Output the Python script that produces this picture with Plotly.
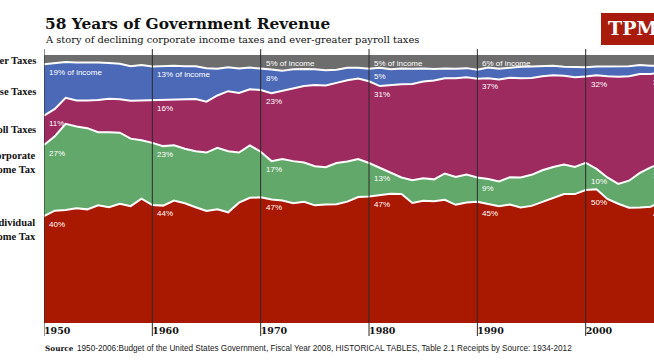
import plotly.graph_objects as go

# ---------------- data (percent of federal receipts) ----------------
years = list(range(1950, 2008))

individual = [39.9, 41.9, 42.2, 42.8, 42.4, 43.9, 43.2, 44.5, 43.6, 46.4,
              44.0, 43.8, 45.7, 44.7, 43.2, 41.8, 42.4, 41.3, 44.9, 46.7,
              46.9, 46.1, 45.7, 44.7, 45.2, 43.9, 44.2, 44.3, 45.3, 47.0,
              47.2, 47.7, 48.2, 48.1, 44.8, 45.6, 45.4, 46.0, 44.1, 45.0,
              45.2, 44.4, 43.6, 44.2, 43.1, 43.7, 45.2, 46.7, 48.1, 48.1,
              49.6, 49.9, 46.3, 44.5, 43.0, 43.1, 43.4, 45.3]
corporate = [26.5, 27.8, 32.1, 30.5, 30.3, 27.3, 28.0, 26.5, 25.2, 21.8,
             23.2, 22.2, 20.6, 20.3, 20.9, 21.8, 23.0, 22.8, 18.7, 19.6,
             17.0, 14.3, 15.5, 15.7, 14.7, 14.6, 13.9, 15.4, 15.0, 14.2,
             12.5, 10.2, 8.0, 6.2, 8.5, 8.4, 8.2, 9.8, 10.4, 10.4,
             9.1, 9.3, 9.2, 10.2, 11.2, 11.6, 11.8, 11.5, 11.0, 10.1,
             10.2, 7.6, 8.0, 7.4, 10.1, 12.9, 14.7, 14.4]
payroll = [11.0, 10.2, 9.7, 9.7, 10.3, 12.0, 12.5, 12.5, 14.1, 14.8,
           15.9, 17.4, 17.1, 18.6, 19.5, 19.0, 19.5, 22.4, 22.2, 20.9,
           23.0, 25.3, 25.4, 27.3, 28.5, 30.3, 30.5, 29.9, 30.3, 30.0,
           30.5, 30.5, 32.6, 34.8, 35.9, 36.1, 36.9, 35.5, 36.8, 36.3,
           36.8, 37.6, 38.1, 37.1, 37.0, 36.1, 35.1, 34.2, 33.2, 33.5,
           32.2, 34.9, 37.8, 40.0, 39.0, 36.9, 34.8, 33.9]
excise = [19.1, 17.1, 13.4, 14.2, 14.3, 14.0, 13.3, 13.2, 12.9, 13.3,
          12.6, 12.4, 12.6, 12.2, 12.2, 12.5, 10.0, 8.9, 9.2, 8.1,
          8.1, 8.9, 7.5, 7.0, 6.4, 5.9, 5.7, 4.9, 4.6, 4.0,
          4.7, 6.8, 5.9, 5.9, 5.7, 4.9, 4.3, 3.7, 3.6, 3.4,
          3.4, 4.0, 4.0, 3.8, 4.3, 4.3, 3.7, 3.6, 3.3, 3.9,
          3.4, 3.3, 3.6, 3.8, 3.7, 3.4, 3.1, 2.5]
other = [3.5, 3.0, 2.6, 2.8, 2.7, 2.8, 3.0, 3.3, 4.2, 3.7,
         4.3, 4.2, 4.0, 4.2, 4.2, 4.9, 5.1, 4.6, 5.0, 4.7,
         5.0, 5.4, 5.9, 5.3, 5.2, 5.3, 5.7, 5.5, 4.8, 4.8,
         5.1, 4.8, 5.3, 5.0, 5.1, 5.0, 5.2, 5.0, 5.1, 4.9,
         5.5, 4.7, 5.1, 4.7, 4.4, 4.3, 4.2, 4.0, 4.4, 4.4,
         4.6, 4.3, 4.3, 4.3, 4.2, 3.7, 4.0, 3.9]

series_names = ["Individual Income Tax", "Corporate Income Tax", "Payroll Taxes",
                "Excise Taxes", "Other Taxes"]
series_values = [individual, corporate, payroll, excise, other]
series_colors = ["#a91800", "#63a86b", "#9e2b5f", "#4b69b6", "#6d6d6d"]

decade_ticks = [1950, 1960, 1970, 1980, 1990, 2000]
decade_labels = ["1950", "1960", "1970", "1980", "1990", "2000"]

# which bands carry a percentage label in each labelled year (bottom -> top index)
label_years = [1950, 1960, 1970, 1980, 1990, 2000, 2006]
label_bands = [[0, 1, 2, 3], [0, 1, 2, 3], [0, 1, 2, 3, 4], [0, 1, 2, 3, 4],
               [0, 1, 2, 4], [0, 1, 2], [0, 1, 2]]
suffix_years = [1950, 1960, 1970, 1980, 1990]

title_text = "58 Years of Government Revenue"
subtitle_text = "A story of declining corporate income taxes and ever-greater payroll taxes"
source_text = ("1950-2006:Budget of the United States Government, Fiscal Year 2008, "
               "HISTORICAL TABLES, Table 2.1 Receipts by Source: 1934-2012")

# ---------------- figure ----------------
W, H = 654, 362
L, T, B = 44, 55, 39
plot_h = H - T - B
plot_w = W - L
PX_PER_YEAR = 10.834


def py(ypx):
    return (H - B - ypx) / plot_h


def px(xpx):
    return (xpx - L) / plot_w


fig = go.Figure()
for i, (name, vals, col) in enumerate(zip(series_names, series_values, series_colors)):
    fig.add_trace(go.Scatter(
        x=years, y=vals, name=name, mode="lines", stackgroup="one",
        line=dict(color="white", width=0 if i == 4 else 2, shape="linear"),
        fillcolor=col, hoverinfo="skip", showlegend=False))

serif = "DejaVu Serif"
narrow_serif = "Liberation Serif"
sans = "Liberation Sans, Arial, sans-serif"

shapes = []
for yr in decade_ticks:
    shapes.append(dict(type="line", xref="x", yref="paper", x0=yr, x1=yr,
                       y0=py(336), y1=py(49), line=dict(color="#2b2b2b", width=1),
                       layer="above"))
# TPM logo box
shapes.append(dict(type="rect", xref="paper", yref="paper", x0=px(601), x1=px(670),
                   y0=py(45), y1=py(13), fillcolor="#a91c0c", line=dict(width=0),
                   layer="above"))

ann = []
ann.append(dict(text="<b>" + title_text + "</b>", xref="paper", yref="paper",
                x=px(43), y=py(24), xanchor="left", yanchor="middle", showarrow=False,
                font=dict(family=serif, size=15.4, color="#111")))
ann.append(dict(text=subtitle_text, xref="paper", yref="paper",
                x=px(43), y=py(39), xanchor="left", yanchor="middle", showarrow=False,
                font=dict(family=serif, size=9.9, color="#111")))
ann.append(dict(text="<b>TPM</b>", xref="paper", yref="paper",
                x=px(606), y=py(28), xanchor="left", yanchor="middle", showarrow=False,
                font=dict(family=serif, size=19, color="white")))

# left-hand series labels
left_labels = [("Other Taxes", 60), ("Excise Taxes", 91), ("Payroll Taxes", 129),
               ("Corporate<br>Income Tax", 162), ("Individual<br>Income Tax", 229.5)]
for txt, ypos in left_labels:
    ann.append(dict(text="<b>" + txt + "</b>", xref="paper", yref="paper",
                    x=px(38), y=py(ypos), xanchor="right", yanchor="middle",
                    align="right", showarrow=False,
                    font=dict(family=narrow_serif, size=10.5, color="#111")))

# source line
ann.append(dict(text="<b>Source</b>", xref="paper", yref="paper", x=px(43), y=py(348),
                xanchor="left", yanchor="middle", showarrow=False,
                font=dict(family=serif, size=7.3, color="#111")))
ann.append(dict(text=source_text, xref="paper", yref="paper", x=px(75), y=py(348),
                xanchor="left", yanchor="middle", showarrow=False,
                font=dict(family=sans, size=8.2, color="#222")))


def interp(vals, x):
    i = int(x) - years[0]
    if i + 1 >= len(vals):
        return vals[-1]
    f = x - int(x)
    return vals[i] * (1 - f) + vals[i + 1] * f


# in-band percentage labels, placed just under the band's upper edge
cum = []
acc = [0.0] * len(years)
for vals in series_values:
    acc = [a + v for a, v in zip(acc, vals)]
    cum.append(acc)

for yr, bands in zip(label_years, label_bands):
    idx = years.index(yr)
    top_band = max(bands)
    for b in bands:
        v = series_values[b][idx]
        txt = "%d%%" % int(v + 0.5)
        if b == top_band and yr in suffix_years:
            txt += " of income"
        edge = min(interp(cum[b], yr + k * 0.25) for k in range(7))
        ann.append(dict(text=txt, xref="x", yref="y", x=yr, y=edge,
                        xshift=3 if yr != 2006 else 0, yshift=-8,
                        xanchor="left", yanchor="middle", showarrow=False,
                        font=dict(family=sans, size=8, color="white")))

fig.update_layout(
    width=W, height=H,
    margin=dict(l=L, r=0, t=T, b=B, pad=0),
    paper_bgcolor="white", plot_bgcolor="white",
    xaxis=dict(range=[1950, 1950 + plot_w / PX_PER_YEAR], showgrid=False, zeroline=False,
               showline=False, tickvals=decade_ticks,
               ticktext=["<b>%s</b>" % t for t in decade_labels],
               ticklabelposition="outside right", ticks="",
               tickfont=dict(family=serif, size=9.5, color="#111")),
    yaxis=dict(range=[0, 100], visible=False),
    shapes=shapes, annotations=ann, showlegend=False,
)

fig.write_html("out.html", config={"displayModeBar": False, "staticPlot": True},
               post_script="document.body.style.margin='0';")
